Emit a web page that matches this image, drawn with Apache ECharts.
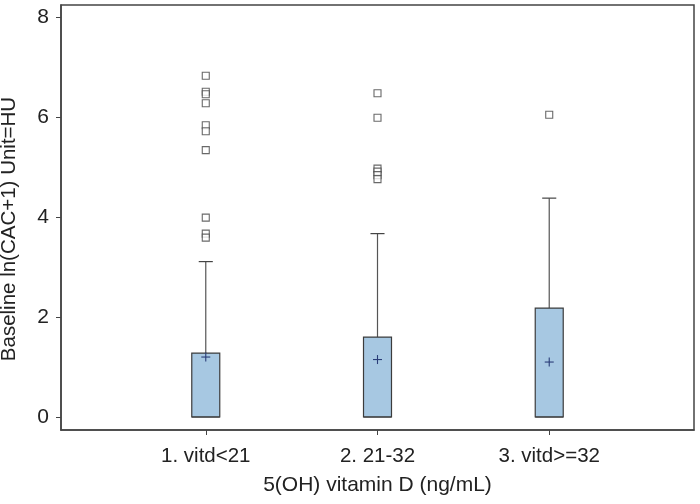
<!DOCTYPE html>
<html>
<head>
<meta charset="utf-8">
<script src="https://cdn.jsdelivr.net/npm/echarts@6/dist/echarts.min.js"></script>
<style>
html,body{margin:0;padding:0;background:#fff;}
#chart{width:700px;height:504px;}
</style>
</head>
<body>
<div id="chart"></div>
<script>
// ---- data ----
var categories = ['1. vitd<21', '2. 21-32', '3. vitd>=32'];
var q1Values = [0, 0, 0];
var medianValues = [0, 0, 0];
var q3Values = [1.28, 1.60, 2.18];
var whiskerLow = [0, 0, 0];
var whiskerHigh = [3.11, 3.67, 4.38];
var meanValues = [1.20, 1.15, 1.10];
var outliers1 = [6.83, 6.51, 6.46, 6.28, 5.84, 5.72, 5.34, 3.99, 3.67, 3.59];
var outliers2 = [6.48, 5.99, 4.97, 4.91, 4.84, 4.76];
var outliers3 = [6.05];
var yTicks = [0, 2, 4, 6, 8];
var xTitle = '5(OH) vitamin D (ng/mL)';
var yTitle = 'Baseline ln(CAC+1) Unit=HU';

// ---- build ----
var boxData = categories.map(function (c, i) {
  return [i + 1, q1Values[i], medianValues[i], q3Values[i], whiskerLow[i], whiskerHigh[i], meanValues[i]];
});
var outlierData = [];
[outliers1, outliers2, outliers3].forEach(function (arr, i) {
  arr.forEach(function (v) { outlierData.push([i + 1, v]); });
});

var FONT = "'Liberation Sans', Arial, sans-serif";
var BOX_W = 0.163;      // box width in category units
var CAP_W = 0.082;      // whisker cap width in category units
var LINE = '#3c3c3c';

function renderBox(params, api) {
  var x = api.value(0);
  var q1 = api.value(1), med = api.value(2), q3 = api.value(3);
  var lo = api.value(4), hi = api.value(5), mean = api.value(6);
  var halfW = api.size([BOX_W, 0])[0] / 2;
  var capHalf = api.size([CAP_W, 0])[0] / 2;
  var pQ1 = api.coord([x, q1]);
  var pQ3 = api.coord([x, q3]);
  var pMed = api.coord([x, med]);
  var pHi = api.coord([x, hi]);
  var pLo = api.coord([x, lo]);
  var pMean = api.coord([x, mean]);
  var cx = pQ1[0];
  var children = [];
  children.push({ type: 'line', shape: { x1: cx, y1: pQ3[1], x2: cx, y2: pHi[1] },
    style: { stroke: '#555', lineWidth: 1.2 } });
  children.push({ type: 'line', shape: { x1: cx - capHalf, y1: pHi[1], x2: cx + capHalf, y2: pHi[1] },
    style: { stroke: '#444', lineWidth: 1.2 } });
  if (pLo[1] !== pQ1[1]) {
    children.push({ type: 'line', shape: { x1: cx, y1: pQ1[1], x2: cx, y2: pLo[1] },
      style: { stroke: '#555', lineWidth: 1.2 } });
    children.push({ type: 'line', shape: { x1: cx - capHalf, y1: pLo[1], x2: cx + capHalf, y2: pLo[1] },
      style: { stroke: '#444', lineWidth: 1.2 } });
  }
  children.push({ type: 'rect', shape: { x: cx - halfW, y: pQ3[1], width: halfW * 2, height: pQ1[1] - pQ3[1] },
    style: { fill: '#a7c8e2', stroke: LINE, lineWidth: 1.2 } });
  children.push({ type: 'line', shape: { x1: cx - halfW, y1: pMed[1], x2: cx + halfW, y2: pMed[1] },
    style: { stroke: LINE, lineWidth: 1.2 } });
  children.push({ type: 'line', shape: { x1: cx - 4.5, y1: pMean[1], x2: cx + 4.5, y2: pMean[1] },
    style: { stroke: '#2a3d78', lineWidth: 1.1 } });
  children.push({ type: 'line', shape: { x1: cx, y1: pMean[1] - 4.5, x2: cx, y2: pMean[1] + 4.5 },
    style: { stroke: '#2a3d78', lineWidth: 1.1 } });
  return { type: 'group', children: children };
}

var chart = echarts.init(document.getElementById('chart'), null, { renderer: 'canvas' });
chart.setOption({
  backgroundColor: '#fff',
  animation: false,
  textStyle: { fontFamily: FONT },
  grid: {
    left: 61, right: 6, top: 5, bottom: 74,
    containLabel: false,
    outerBoundsMode: 'none',
    show: true, borderColor: '#444', borderWidth: 1.5, backgroundColor: 'transparent'
  },
  xAxis: {
    type: 'value',
    min: 0.157, max: 3.843,
    name: xTitle,
    nameLocation: 'middle',
    nameGap: 45,
    nameTextStyle: { fontSize: 21, color: '#222', fontFamily: FONT },
    axisLine: { show: true, onZero: false, lineStyle: { color: '#444', width: 1.5 } },
    axisTick: { show: true, length: 5, customValues: [1, 2, 3], lineStyle: { color: '#444' } },
    axisLabel: {
      customValues: [1, 2, 3],
      fontSize: 20.5, color: '#222', fontFamily: FONT, margin: 16,
      formatter: function (v) { return categories[Math.round(v) - 1] || ''; }
    },
    splitLine: { show: false }
  },
  yAxis: {
    type: 'value',
    min: -0.26, max: 8.245,
    name: yTitle,
    nameLocation: 'middle',
    nameGap: 41,
    nameTextStyle: { fontSize: 20.5, color: '#222', fontFamily: FONT, padding: [0, 23, 0, 0] },
    axisLine: { show: true, onZero: false, lineStyle: { color: '#444', width: 1.5 } },
    axisTick: { show: true, length: 5, customValues: yTicks, lineStyle: { color: '#444' } },
    axisLabel: { customValues: yTicks, fontSize: 21, color: '#222', fontFamily: FONT, margin: 12 },
    splitLine: { show: false }
  },
  series: [
    {
      type: 'custom',
      renderItem: renderBox,
      encode: { x: 0, y: [1, 2, 3, 4, 5, 6] },
      data: boxData,
      z: 2
    },
    {
      type: 'scatter',
      data: outlierData,
      symbol: 'rect',
      symbolSize: 7,
      itemStyle: { color: '#fff', borderColor: '#444', borderWidth: 1.1 },
      z: 3
    }
  ]
});
</script>
</body>
</html>
